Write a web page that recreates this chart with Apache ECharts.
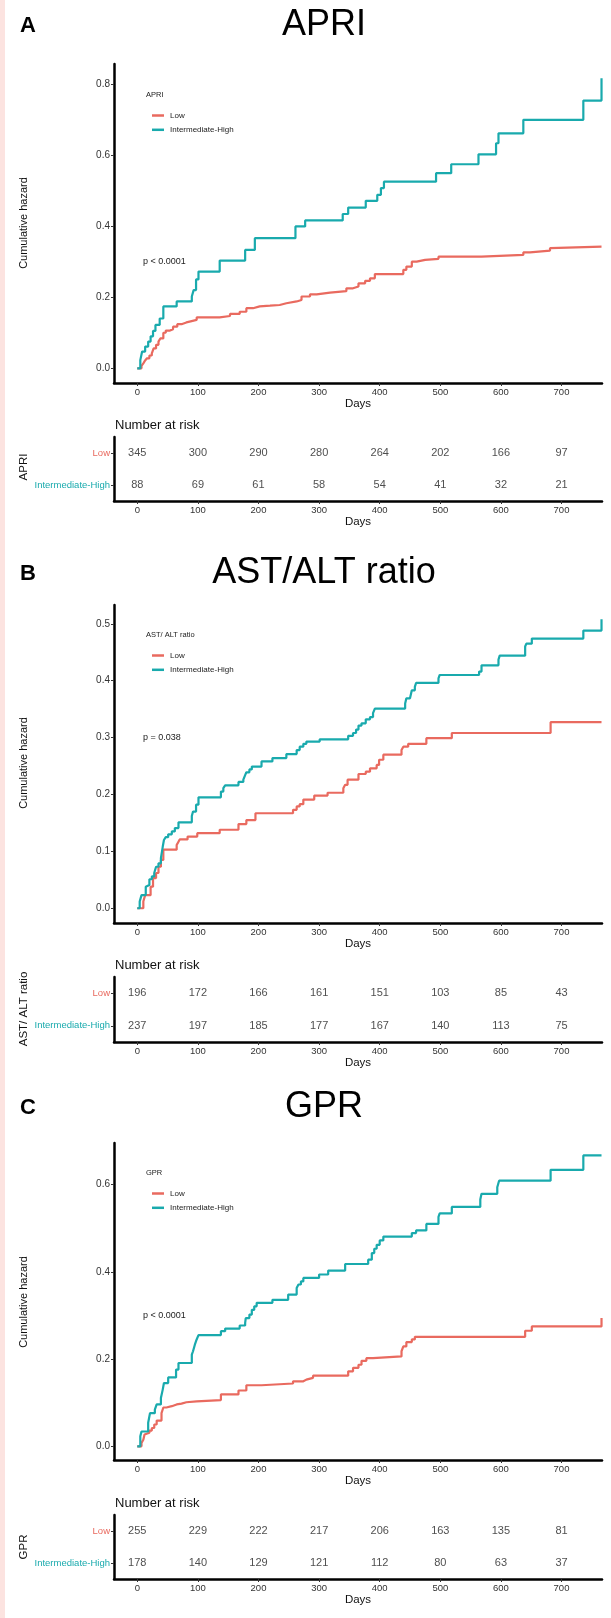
<!DOCTYPE html>
<html>
<head>
<meta charset="utf-8">
<script src="https://cdn.jsdelivr.net/npm/echarts@6/dist/echarts.min.js"></script>
<style>
  html, body { margin: 0; padding: 0; background: #fff; }
  #chart { width: 611px; height: 1618px; }
</style>
</head>
<body>
<div id="chart"></div>
<script>
// tick positions (days) shared by all panels
const xTicks = [0, 100, 200, 300, 400, 500, 600, 700];
const groups = ['Low', 'Intermediate-High'];

// APRI: cumulative hazard steps [day, hazard]
const apriLow = [[0,0],[7,0.007],[10,0.014],[13,0.022],[16,0.028],[20,0.036],[24,0.042],[27,0.056],[31,0.066],[35,0.075],[38,0.084],[43,0.100],[47,0.106],[54,0.110],[59,0.117],[66,0.124],[73,0.129],[81,0.132],[88,0.136],[98,0.143],[136,0.147],[153,0.153],[169,0.159],[180,0.169],[191,0.174],[202,0.176],[219,0.178],[235,0.183],[246,0.188],[263,0.192],[271,0.202],[285,0.208],[296,0.213],[318,0.217],[345,0.225],[356,0.230],[365,0.239],[376,0.246],[384,0.253],[392,0.265],[439,0.277],[444,0.286],[453,0.300],[461,0.305],[475,0.308],[497,0.314],[568,0.319],[637,0.326],[648,0.331],[681,0.338],[684,0.342],[766,0.342]];
const apriHigh = [[0,0],[5,0.023],[8,0.047],[13,0.061],[18,0.075],[22,0.090],[26,0.105],[30,0.122],[37,0.140],[43,0.174],[65,0.188],[90,0.202],[93,0.220],[97,0.250],[101,0.272],[136,0.303],[178,0.333],[194,0.366],[261,0.399],[277,0.416],[339,0.434],[348,0.452],[377,0.471],[396,0.488],[402,0.507],[407,0.525],[493,0.549],[518,0.574],[563,0.602],[592,0.633],[596,0.661],[637,0.699],[736,0.753],[766,0.816]];
const apriRiskLow = [345, 300, 290, 280, 264, 202, 166, 97];
const apriRiskHigh = [88, 69, 61, 58, 54, 41, 32, 21];
const apriYTicks = [0, 0.2, 0.4, 0.6, 0.8];

// AST/ALT ratio
const astLow = [[0,0],[10,0.012],[13,0.023],[22,0.038],[26,0.053],[31,0.062],[35,0.073],[39,0.085],[43,0.103],[65,0.111],[68,0.117],[70,0.121],[83,0.126],[99,0.132],[136,0.138],[167,0.148],[180,0.155],[195,0.167],[257,0.173],[263,0.179],[268,0.183],[274,0.191],[292,0.198],[314,0.203],[340,0.211],[343,0.217],[347,0.226],[365,0.236],[377,0.240],[384,0.246],[395,0.252],[399,0.261],[406,0.270],[436,0.278],[439,0.284],[447,0.289],[477,0.299],[519,0.308],[682,0.327],[766,0.327]];
const astHigh = [[0,0],[4,0.012],[7,0.023],[14,0.038],[17,0.041],[20,0.051],[24,0.056],[28,0.062],[31,0.073],[35,0.079],[39,0.088],[42,0.108],[44,0.120],[47,0.125],[51,0.130],[57,0.135],[62,0.141],[68,0.151],[90,0.162],[92,0.170],[97,0.182],[101,0.195],[138,0.205],[142,0.211],[145,0.216],[167,0.222],[175,0.226],[178,0.234],[180,0.239],[185,0.244],[189,0.249],[205,0.258],[223,0.264],[246,0.271],[263,0.278],[268,0.284],[274,0.289],[279,0.293],[301,0.297],[348,0.303],[356,0.308],[361,0.314],[365,0.321],[370,0.325],[377,0.332],[384,0.336],[389,0.343],[392,0.351],[442,0.360],[444,0.369],[450,0.372],[453,0.383],[458,0.389],[460,0.396],[497,0.404],[499,0.410],[564,0.416],[568,0.427],[596,0.437],[598,0.444],[640,0.460],[642,0.465],[651,0.474],[736,0.488],[766,0.508]];
const astRiskLow = [196, 172, 166, 161, 151, 103, 85, 43];
const astRiskHigh = [237, 197, 185, 177, 167, 140, 113, 75];
const astYTicks = [0, 0.1, 0.2, 0.3, 0.4, 0.5];

// GPR
const gprLow = [[0,0],[7,0.008],[10,0.015],[12,0.027],[15,0.031],[20,0.036],[24,0.042],[28,0.050],[32,0.059],[40,0.076],[43,0.089],[48,0.092],[57,0.096],[65,0.098],[73,0.101],[81,0.103],[98,0.106],[138,0.119],[167,0.128],[180,0.140],[205,0.144],[257,0.149],[274,0.153],[279,0.157],[290,0.162],[348,0.172],[356,0.180],[365,0.187],[370,0.196],[378,0.202],[389,0.206],[436,0.218],[439,0.229],[444,0.239],[453,0.245],[458,0.251],[640,0.265],[651,0.275],[766,0.294]];
const gprHigh = [[0,0],[5,0.023],[7,0.034],[18,0.054],[21,0.076],[29,0.084],[32,0.096],[39,0.111],[42,0.130],[44,0.145],[51,0.158],[64,0.176],[68,0.191],[90,0.210],[92,0.218],[95,0.233],[98,0.245],[101,0.255],[138,0.264],[145,0.270],[169,0.277],[178,0.283],[179,0.294],[185,0.302],[189,0.313],[193,0.321],[197,0.329],[223,0.336],[249,0.348],[263,0.363],[266,0.371],[270,0.378],[274,0.386],[300,0.394],[315,0.403],[343,0.418],[381,0.428],[387,0.443],[391,0.453],[395,0.462],[400,0.472],[406,0.481],[453,0.489],[460,0.495],[477,0.510],[497,0.526],[499,0.534],[519,0.549],[566,0.566],[568,0.579],[594,0.594],[597,0.609],[682,0.634],[736,0.667],[766,0.667]];
const gprRiskLow = [255, 229, 222, 217, 206, 163, 135, 81];
const gprRiskHigh = [178, 140, 129, 121, 112, 80, 63, 37];
const gprYTicks = [0, 0.2, 0.4, 0.6];

const RED = '#E96A5F';
const TEAL = '#19AAAD';
const FONT = 'Liberation Sans, Arial, Helvetica, sans-serif';

const panels = [
  { letter: 'A', title: 'APRI', legendTitle: 'APRI', p: 'p < 0.0001', tableName: 'APRI',
    low: apriLow, high: apriHigh, riskLow: apriRiskLow, riskHigh: apriRiskHigh,
    yTicks: apriYTicks, yMin: -0.0414, yMax: 0.856,
    plotTop: 64, plotH: 319, tableTop: 437, tableH: 64,
    titleY: 25, legTitleY: 95, legendTop: 106.5, pY: 262, narY: 425, cumY: 223, tabY: 467 },
  { letter: 'B', title: 'AST/ALT ratio', legendTitle: 'AST/ ALT ratio', p: 'p = 0.038', tableName: 'AST/ ALT ratio',
    low: astLow, high: astHigh, riskLow: astRiskLow, riskHigh: astRiskHigh,
    yTicks: astYTicks, yMin: -0.0259, yMax: 0.533,
    plotTop: 605, plotH: 318, tableTop: 977, tableH: 65,
    titleY: 573, legTitleY: 635, legendTop: 646.5, pY: 738, narY: 965, cumY: 763, tabY: 1009 },
  { letter: 'C', title: 'GPR', legendTitle: 'GPR', p: 'p < 0.0001', tableName: 'GPR',
    low: gprLow, high: gprHigh, riskLow: gprRiskLow, riskHigh: gprRiskHigh,
    yTicks: gprYTicks, yMin: -0.0314, yMax: 0.6955,
    plotTop: 1143, plotH: 317, tableTop: 1515, tableH: 64,
    titleY: 1107, legTitleY: 1173, legendTop: 1184.5, pY: 1316, narY: 1503, cumY: 1302, tabY: 1547 }
];

const X_MIN = -38.4, X_MAX = 766.8;
const LEFT = 114, WIDTH = 488;

const grid = [], xAxis = [], yAxis = [], series = [], legend = [], graphic = [];

graphic.push({ type: 'rect', left: 0, top: 0, shape: { width: 5, height: 1618 },
  style: { fill: '#FCE3E0' }, silent: true });

function xAxisFor(gi) {
  return {
    type: 'value', gridIndex: gi, min: X_MIN, max: X_MAX,
    name: 'Days', nameLocation: 'middle', nameGap: 14,
    nameTextStyle: { fontSize: 11.5, color: '#111', fontFamily: FONT },
    axisLine: { show: true, onZero: false, lineStyle: { color: '#000', width: 2.5 } },
    axisTick: { show: true, customValues: xTicks, length: 3, lineStyle: { color: '#333', width: 1 } },
    axisLabel: { customValues: xTicks, margin: 4, fontSize: 9.5, color: '#333', fontFamily: FONT },
    splitLine: { show: false }
  };
}

panels.forEach((pn, k) => {
  const gPlot = k * 2, gTab = k * 2 + 1;
  grid.push({ left: LEFT, top: pn.plotTop, width: WIDTH, height: pn.plotH });
  grid.push({ left: LEFT, top: pn.tableTop, width: WIDTH, height: pn.tableH });

  xAxis.push(xAxisFor(gPlot));
  xAxis.push(xAxisFor(gTab));

  yAxis.push({
    type: 'value', gridIndex: gPlot, min: pn.yMin, max: pn.yMax,
    axisLine: { show: true, onZero: false, lineStyle: { color: '#000', width: 2.5 } },
    axisTick: { show: true, customValues: pn.yTicks, length: 3, lineStyle: { color: '#333', width: 1 } },
    axisLabel: { customValues: pn.yTicks, margin: 4, fontSize: 10, color: '#333', fontFamily: FONT,
      formatter: v => v.toFixed(1) },
    splitLine: { show: false }
  });
  yAxis.push({
    type: 'category', gridIndex: gTab, data: groups, inverse: true,
    axisLine: { show: true, onZero: false, lineStyle: { color: '#000', width: 2.5 } },
    axisTick: { show: true, alignWithLabel: true, length: 3, lineStyle: { color: '#333', width: 1 } },
    axisLabel: { margin: 4, fontSize: 9.5, fontFamily: FONT,
      color: (v, i) => (i === 0 ? RED : TEAL) },
    splitLine: { show: false }
  });

  series.push({ name: 'Low', type: 'line', step: 'end', xAxisIndex: gPlot, yAxisIndex: gPlot,
    data: pn.low, symbol: 'none', lineStyle: { color: RED, width: 2.2 }, itemStyle: { color: RED } });
  series.push({ name: 'Intermediate-High', type: 'line', step: 'end', xAxisIndex: gPlot, yAxisIndex: gPlot,
    data: pn.high, symbol: 'none', lineStyle: { color: TEAL, width: 2.2 }, itemStyle: { color: TEAL } });

  [pn.riskLow, pn.riskHigh].forEach((vals, row) => {
    series.push({
      type: 'scatter', xAxisIndex: gTab, yAxisIndex: gTab, symbolSize: 0,
      itemStyle: { color: 'rgba(0,0,0,0)' },
      data: xTicks.map((d, i) => [d, row, vals[i]]),
      label: { show: true, position: 'inside', formatter: p => p.value[2],
        fontSize: 11, color: '#222', fontFamily: FONT }
    });
  });

  legend.push({
    data: groups, orient: 'vertical', left: 147, top: pn.legendTop,
    icon: 'rect', itemWidth: 12, itemHeight: 2.5, itemGap: 6.3, selectedMode: false,
    textStyle: { fontSize: 8, lineHeight: 8, color: '#222', fontFamily: FONT, padding: [0, 0, 0, 1] }
  });

  const txt = (x, y, text, size, extra) => Object.assign({
    type: 'text', x: x, y: y, silent: true,
    style: Object.assign({ text: text, fontSize: size, fontFamily: FONT, fill: '#111',
      textAlign: 'left', textVerticalAlign: 'middle' }, extra || {})
  });
  graphic.push(txt(20, pn.titleY + 1, pn.letter, 22, { fontWeight: 'bold', fill: '#000' }));
  graphic.push(txt(324, pn.titleY, pn.title, 36, { textAlign: 'center', fill: '#000' }));
  graphic.push(txt(146, pn.legTitleY, pn.legendTitle, 7.5, { fill: '#222' }));
  graphic.push(txt(143, pn.pY, pn.p, 9, { fill: '#222' }));
  graphic.push(txt(115, pn.narY, 'Number at risk', 13, { fill: '#111' }));
  graphic.push(Object.assign(txt(24, pn.cumY, 'Cumulative hazard', 11, { textAlign: 'center' }),
    { rotation: Math.PI / 2 }));
  graphic.push(Object.assign(txt(24, pn.tabY, pn.tableName, 11.5, { textAlign: 'center' }),
    { rotation: Math.PI / 2 }));
});

const chart = echarts.init(document.getElementById('chart'), null, { renderer: 'canvas' });
chart.setOption({
  backgroundColor: '#fff',
  animation: false,
  textStyle: { fontFamily: FONT },
  grid: grid,
  xAxis: xAxis,
  yAxis: yAxis,
  legend: legend,
  series: series,
  graphic: graphic
});
</script>
</body>
</html>
